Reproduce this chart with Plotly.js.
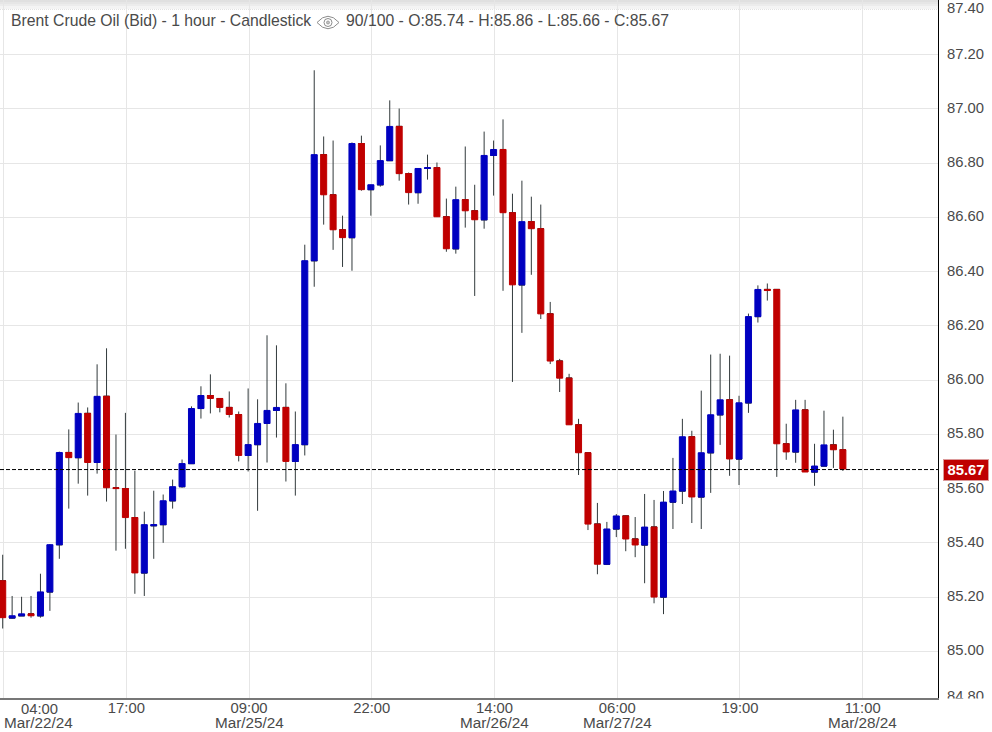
<!DOCTYPE html>
<html>
<head>
<meta charset="utf-8">
<script src="https://cdn.plot.ly/plotly-3.0.1.min.js"></script>
<style>html,body{margin:0;padding:0;background:#fff;overflow:hidden}#chart{width:992px;height:732px}</style>
</head>
<body>
<div id="chart"></div>
<script>
var titleText = "Brent Crude Oil (Bid) - 1 hour - Candlestick";
var quoteText = "90/100 - O:85.74 - H:85.86 - L:85.66 - C:85.67";
var lastPrice = 85.67;

var opens = [85.26,85.123,85.131,85.138,85.131,85.219,85.393,85.733,85.714,85.877,85.696,85.94,85.603,85.6,85.493,85.289,85.463,85.467,85.555,85.607,85.692,85.895,85.943,85.932,85.899,85.873,85.722,85.762,85.84,85.888,85.899,85.7,85.762,
86.44,86.831,86.683,86.554,86.525,86.872,86.702,86.72,86.809,86.935,86.761,86.691,86.78,86.783,86.602,86.484,86.665,86.624,86.591,86.828,86.85,86.617,86.351,86.584,86.558,86.244,86.07,86.007,85.835,85.732,85.469,85.321,85.451,85.499,85.414,85.392,85.458,85.2,85.55,85.591,85.791,85.569,85.732,85.872,85.927,85.709,85.916,86.234,86.334,86.334,85.765,85.735,85.89,85.661,85.683,85.761,85.743];
var highs = [85.356,85.204,85.201,85.204,85.286,85.395,85.736,85.818,85.917,85.899,86.058,86.117,85.799,85.879,85.666,85.515,85.592,85.578,85.633,85.707,85.903,85.977,86.021,85.932,85.958,85.884,85.969,85.929,86.165,86.128,85.988,85.884,86.499,
87.142,86.898,86.883,86.606,86.876,86.901,86.72,86.865,87.031,87.001,86.765,86.78,86.831,86.802,86.669,86.713,86.861,86.72,86.916,86.883,86.961,86.687,86.735,86.676,86.647,86.288,86.078,86.023,85.857,85.732,85.547,85.477,85.506,85.502,85.495,85.58,85.558,85.591,85.713,85.857,85.813,85.961,86.094,86.097,86.09,85.942,86.245,86.349,86.356,86.334,85.839,85.927,85.927,85.765,85.887,85.817,85.865];
var lows = [85.084,85.121,85.131,85.124,85.124,85.149,85.341,85.526,85.618,85.574,85.655,85.552,85.371,85.378,85.212,85.204,85.341,85.4,85.526,85.603,85.692,85.858,85.877,85.881,85.862,85.7,85.663,85.518,85.696,85.788,85.626,85.574,85.722,
86.344,86.573,86.48,86.417,86.403,86.698,86.606,86.713,86.809,86.735,86.647,86.65,86.739,86.602,86.473,86.466,86.562,86.31,86.558,86.68,86.329,85.993,86.174,86.388,86.225,86.059,85.956,85.835,85.65,85.447,85.284,85.318,85.421,85.369,85.347,85.251,85.177,85.137,85.451,85.543,85.473,85.451,85.584,85.761,85.647,85.613,85.879,86.212,86.293,85.643,85.706,85.695,85.661,85.61,85.683,85.676,85.665];
var closes = [85.124,85.131,85.138,85.131,85.219,85.393,85.733,85.714,85.877,85.696,85.94,85.603,85.6,85.493,85.289,85.467,85.467,85.555,85.607,85.692,85.895,85.943,85.932,85.899,85.873,85.722,85.762,85.84,85.888,85.899,85.7,85.762,86.44,
86.831,86.683,86.554,86.525,86.872,86.702,86.72,86.809,86.935,86.761,86.691,86.78,86.783,86.602,86.484,86.665,86.624,86.591,86.828,86.85,86.617,86.351,86.584,86.558,86.244,86.07,86.007,85.835,85.732,85.469,85.321,85.451,85.499,85.414,85.392,85.458,85.2,85.55,85.591,85.791,85.569,85.732,85.872,85.927,85.709,85.916,86.234,86.334,86.33,85.765,85.735,85.89,85.661,85.683,85.761,85.743,85.672];

var yTicks = [85,85.2,85.4,85.6,85.8,86,86.2,86.4,86.6,86.8,87,87.2];
var yTickText = ["85.00","85.20","85.40","85.60","85.80","86.00","86.20","86.40","86.60","86.80","87.00","87.20"];
var yEdgeTicks = [84.835,87.371];
var yEdgeText = ["84.80","87.40"];
var xTicks = [0.1,13.1,26.1,39.1,52.1,65.1,78.1,91.1];
var xTickText = ["","17:00","09:00","22:00","14:00","06:00","19:00","11:00"];
var dateLabels = [["Mar/25/24",26.1],["Mar/26/24",52.1],["Mar/27/24",65.1],["Mar/28/24",91.1]];

var W = 938, H = 698;
function px(v){ return v / W; }
function py(v){ return 1 - v / H; }
var BLUE = "#0000c0", RED = "#c00000", WICK = "#323a3c", TXT = "#4a4a4a", GRID = "#e6e6e6";
var xs = opens.map(function(_, i){ return i; });
var bodyTop = opens.map(function(o, i){ return Math.max(o, closes[i]); });
var bodyBot = opens.map(function(o, i){ return Math.min(o, closes[i]); });

var wickTrace = {
  type: "candlestick", x: xs, open: opens, close: opens, high: highs, low: lows,
  increasing: {line: {color: WICK, width: 1}, fillcolor: WICK},
  decreasing: {line: {color: WICK, width: 1}, fillcolor: WICK},
  whiskerwidth: 0, showlegend: false, hoverinfo: "skip"
};
var bodyTrace = {
  type: "candlestick", x: xs, open: opens, close: closes, high: bodyTop, low: bodyBot, yaxis: "y2",
  increasing: {line: {color: BLUE, width: 1}, fillcolor: BLUE},
  decreasing: {line: {color: RED, width: 1}, fillcolor: RED},
  whiskerwidth: 0, showlegend: false
};

var yRange = [85 - (698 - 651.3) / 271.25, 85 + 651.3 / 271.25];
var FONT = "Liberation Sans, Arial, sans-serif";
var tickFont = {family: FONT, size: 14.8, color: TXT};
var dateFont = {family: FONT, size: 15.3, color: TXT};
var headFont = {family: FONT, size: 15.75, color: TXT};

function rect(x0, y0, x1, y1, color, layer){
  return {type: "rect", xref: "paper", yref: "paper", x0: px(x0), x1: px(x1), y0: py(y0), y1: py(y1),
    fillcolor: color, line: {width: 0}, layer: layer || "below"};
}
var shapes = [
  rect(0, 0, W, 2, "#e0e0e0"), rect(0, 2, W, 4, "#e6e6e6"), rect(0, 4, W, 6, "#ececec"), rect(0, 6, W, 9, "#f4f4f4"),
  {type: "line", xref: "paper", yref: "paper", x0: 0, x1: 1, y0: py(9.5), y1: py(9.5), line: {color: "#e2e2e2", width: 1, dash: "1px,1px"}, layer: "below"},
  {type: "line", xref: "paper", yref: "y", x0: 0, x1: 1, y0: lastPrice, y1: lastPrice, line: {color: "#000", width: 1, dash: "4px,2px"}, layer: "above"},
  rect(940, 698.5, 992, 732, "#ffffff", "above"),
  {type: "path", xref: "paper", yref: "paper", layer: "above",
   path: "M" + px(317) + "," + py(22.5) + " Q" + px(328) + "," + py(10) + " " + px(339) + "," + py(22.5) + " Q" + px(328) + "," + py(35) + " " + px(317) + "," + py(22.5) + " Z",
   line: {color: "#8c8c8c", width: 1}, fillcolor: "rgba(0,0,0,0)"},
  {type: "circle", xref: "paper", yref: "paper", layer: "above", x0: px(324), x1: px(332), y0: py(18.5), y1: py(26.5), line: {color: "#8c8c8c", width: 1}, fillcolor: "rgba(0,0,0,0)"},
  {type: "circle", xref: "paper", yref: "paper", layer: "above", x0: px(326.5), x1: px(329.5), y0: py(21), y1: py(24), line: {color: "#a0a0a0", width: 1}, fillcolor: "#c0c0c0"}
];

function note(text, x, y, anchor, font, h){
  var a = {text: text, xref: "paper", yref: "paper", x: x, y: y, xanchor: anchor, yanchor: "middle", showarrow: false,
    font: font, borderpad: 0};
  if (h) a.height = h;
  return a;
}
var annotations = [
  note(titleText, px(10), py(20), "left", headFont),
  note(quoteText, px(344.5), py(20), "left", headFont),
  note("04:00", px(39), py(708.5), "center", tickFont, 13),
  note("Mar/22/24", px(38.5), py(722), "center", dateFont, 13),
  {text: "<b>85.67</b>", xref: "paper", yref: "y", x: px(966.5), y: lastPrice, xanchor: "center", yanchor: "middle", showarrow: false,
   font: {family: FONT, size: 14.8, color: "#fff"}, bgcolor: RED, bordercolor: "#dc9a9a", borderwidth: 1, borderpad: 0, width: 44, height: 20}
].concat(dateLabels.map(function(d){
  return {text: d[0], xref: "x", yref: "paper", x: d[1], y: py(722), xanchor: "center", yanchor: "middle", showarrow: false, font: dateFont};
}));

var layout = {
  width: 992, height: 732, autosize: false,
  margin: {l: 0, r: 54, t: 0, b: 34, pad: 0},
  paper_bgcolor: "#fff", plot_bgcolor: "rgba(0,0,0,0)",
  showlegend: false, boxgap: 0.36, boxgroupgap: 0, dragmode: false,
  xaxis: {type: "linear", range: [-2.7 / 9.44, (938 - 2.7) / 9.44], tickmode: "array", tickvals: xTicks, ticktext: xTickText,
    showgrid: true, gridcolor: GRID, gridwidth: 1, zeroline: false, showline: true, linecolor: "#777", linewidth: 2, ticks: "", ticklabelstandoff: -5,
    tickfont: tickFont, tickangle: 0, rangeslider: {visible: false}, fixedrange: true},
  yaxis: {type: "linear", side: "right", range: yRange, tickmode: "array", tickvals: yTicks, ticktext: yTickText,
    showgrid: true, gridcolor: GRID, gridwidth: 1, zeroline: false, showline: true, linecolor: "#000", linewidth: 1, ticks: "outside", ticklen: 5, tickcolor: "rgba(0,0,0,0)", ticklabelshift: -1,
    tickfont: tickFont, fixedrange: true},
  yaxis2: {type: "linear", overlaying: "y", side: "right", range: yRange, tickmode: "array", tickvals: yEdgeTicks, ticktext: yEdgeText,
    showgrid: false, zeroline: false, showline: false, ticks: "outside", ticklen: 5, tickcolor: "rgba(0,0,0,0)",
    tickfont: tickFont, fixedrange: true},
  shapes: shapes, annotations: annotations
};
Plotly.newPlot("chart", [wickTrace, bodyTrace], layout, {displayModeBar: false, staticPlot: true});
</script>
</body>
</html>
